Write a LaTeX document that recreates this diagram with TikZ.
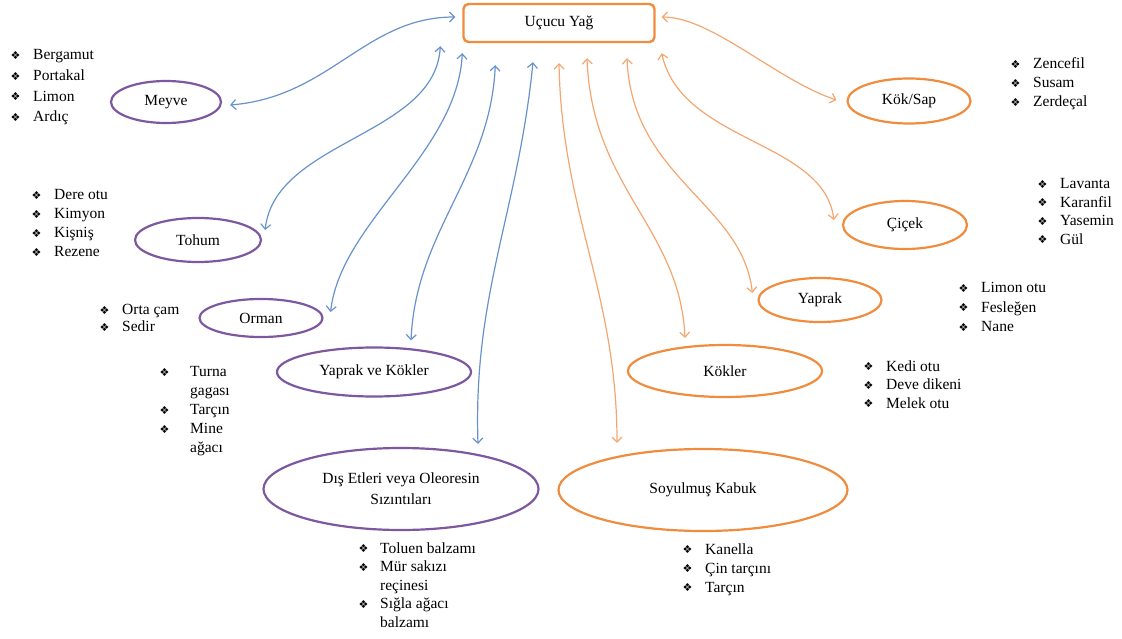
\documentclass[tikz,border=0pt]{standalone}
\usepackage{fontspec}
\setmainfont{Liberation Serif}
\newfontfamily\bulfont{DejaVu Sans}
\usepackage{xcolor}
\usetikzlibrary{arrows.meta, calc, positioning, shapes.geometric}
\definecolor{plum}{RGB}{125,88,160}
\definecolor{rimorange}{RGB}{240,140,62}
\definecolor{linkorange}{RGB}{244,166,112}
\definecolor{linkblue}{RGB}{104,146,204}
\tikzstyle{oilbox} = [rectangle, rounded corners=5pt, minimum width=191pt, minimum height=38pt, inner sep=0pt, draw=rimorange, line width=2.4pt]
\tikzstyle{plantpart} = [ellipse, inner sep=0pt, line width=2.2pt]
\tikzstyle{leftpart} = [plantpart, draw=plum]
\tikzstyle{rightpart} = [plantpart, draw=rimorange]
\tikzstyle{bluelink} = [draw=linkblue, line width=1.2pt, {Straight Barb[length=5pt,width=10pt]}-{Straight Barb[length=5pt,width=10pt]}]
\tikzstyle{orangelink} = [draw=linkorange, line width=1.2pt, {Straight Barb[length=5pt,width=10pt]}-{Straight Barb[length=5pt,width=10pt]}]
\tikzset{
  items/.style={anchor=north west, align=left, inner sep=0pt, font={\fontsize{15.5}{#1}\selectfont}},
  items/.default=19,
  font={\fontsize{15.5}{21}\selectfont}}
\newcommand{\bul}[1][22.5pt]{\makebox[#1][l]{\raisebox{0.5pt}{\bulfont\fontsize{11}{11}\selectfont ❖}}}

\begin{document}
\begin{tikzpicture}[x=1pt, y=-1pt]
    \useasboundingbox (0,0) rectangle (1122,639);

    \node (oil) [oilbox] at (559,23) {Uçucu Yağ};

    % left side
    \node (meyve) [leftpart, minimum width=110pt, minimum height=42pt] at (166,102) {Meyve};
    \node (tohum) [leftpart, minimum width=126pt, minimum height=44pt] at (198,240) {Tohum};
    \node (orman) [leftpart, minimum width=123pt, minimum height=38pt] at (261,318) {Orman};
    \node (yvk) [leftpart, minimum width=194pt, minimum height=49pt] at (374,372) {Yaprak ve Kökler};
    \node (dis) [leftpart, minimum width=275pt, minimum height=82pt, align=center] at (401,489) {Dış Etleri veya Oleoresin\\Sızıntıları};

    % right side
    \node (soy) [rightpart, minimum width=289pt, minimum height=82pt] at (703,490) {Soyulmuş Kabuk};
    \node (kokler) [rightpart, minimum width=194pt, minimum height=52pt] at (725,371) {Kökler};
    \node (yaprak) [rightpart, minimum width=123pt, minimum height=44pt] at (820,300) {Yaprak};
    \node (cicek) [rightpart, minimum width=124pt, minimum height=48pt] at (905,225) {Çiçek};
    \node (koksap) [rightpart, minimum width=123pt, minimum height=45pt] at (909,101) {Kök/Sap};

    % lists
    \node (meyvelist) [items=20.7] at (10.5,49.5) {\bul Bergamut\\ \bul Portakal\\ \bul Limon\\ \bul Ardıç};
    \node (tohumlist) [items] at (31.5,189.5) {\bul Dere otu\\ \bul Kimyon\\ \bul Kişniş\\ \bul Rezene};
    \node (ormanlist) [items=17] at (99.5,304.5) {\bul Orta çam\\ \bul Sedir};
    \node (yvklist) [items] at (159.5,366.5) {\bul[30.5pt]Turna\\ \hspace*{30.5pt}gagası\\ \bul[30.5pt]Tarçın\\ \bul[30.5pt]Mine\\ \hspace*{30.5pt}ağacı};
    \node (dislist) [items=18.5] at (358.5,542.5) {\bul[21.5pt]Toluen balzamı\\ \bul[21.5pt]Mür sakızı\\ \hspace*{21.5pt}reçinesi\\ \bul[21.5pt]Sığla ağacı\\ \hspace*{21.5pt}balzamı};
    \node (soylist) [items] at (682.5,543.5) {\bul Kanella\\ \bul Çin tarçını\\ \bul Tarçın};
    \node (koklerlist) [items=18.5] at (863.5,360.5) {\bul Kedi otu\\ \bul Deve dikeni\\ \bul Melek otu};
    \node (yapraklist) [items=19.5] at (958.5,282.5) {\bul Limon otu\\ \bul Fesleğen\\ \bul Nane};
    \node (ciceklist) [items=18.5] at (1037.5,178.5) {\bul Lavanta\\ \bul Karanfil\\ \bul Yasemin\\ \bul Gül};
    \node (koksaplist) [items] at (1010.5,57.5) {\bul Zencefil\\ \bul Susam\\ \bul Zerdeçal};

    % links
    \draw [bluelink] ($(oil.west)+(-7,-6)$) .. controls +(-90,0) and +(100,-8) .. ($(meyve.east)+(8,3)$);
    \draw [bluelink] ($(oil.south west)+(-22,3)$) .. controls +(-5,90) and +(10,-90) .. ($(tohum.east)+(3,-10)$);
    \draw [bluelink] ($(oil.south west)+(0,10)$) .. controls +(-5,100) and +(10,-90) .. ($(orman.east)+(7,-6)$);
    \draw [bluelink] ($(oil.south west)+(33,22)$) .. controls +(-5,110) and +(5,-110) .. ($(yvk.north)+(37,-6)$);
    \draw [bluelink] ($(oil.south)+(-26,19)$) .. controls +(-15,150) and +(-5,-150) .. ($(dis.north)+(77,-3)$);
    \draw [orangelink] ($(oil.south)+(0,20)$) .. controls +(3,150) and +(0,-150) .. ($(soy.north)+(-86,-5)$);
    \draw [orangelink] ($(oil.south)+(28,15)$) .. controls +(5,130) and +(-5,-110) .. ($(kokler.north)+(-40,-6)$);
    \draw [orangelink] ($(oil.south)+(68,15)$) .. controls +(5,120) and +(-10,-90) .. ($(yaprak.west)+(-5,-7)$);
    \draw [orangelink] ($(oil.south east)+(6,10)$) .. controls +(20,90) and +(-10,-80) .. ($(cicek.west)+(-8,-5)$);
    \draw [orangelink] ($(oil.east)+(6,-6)$) .. controls +(50,0) and +(-60,-20) .. ($(koksap.west)+(-10,-1)$);
\end{tikzpicture}
\end{document}
